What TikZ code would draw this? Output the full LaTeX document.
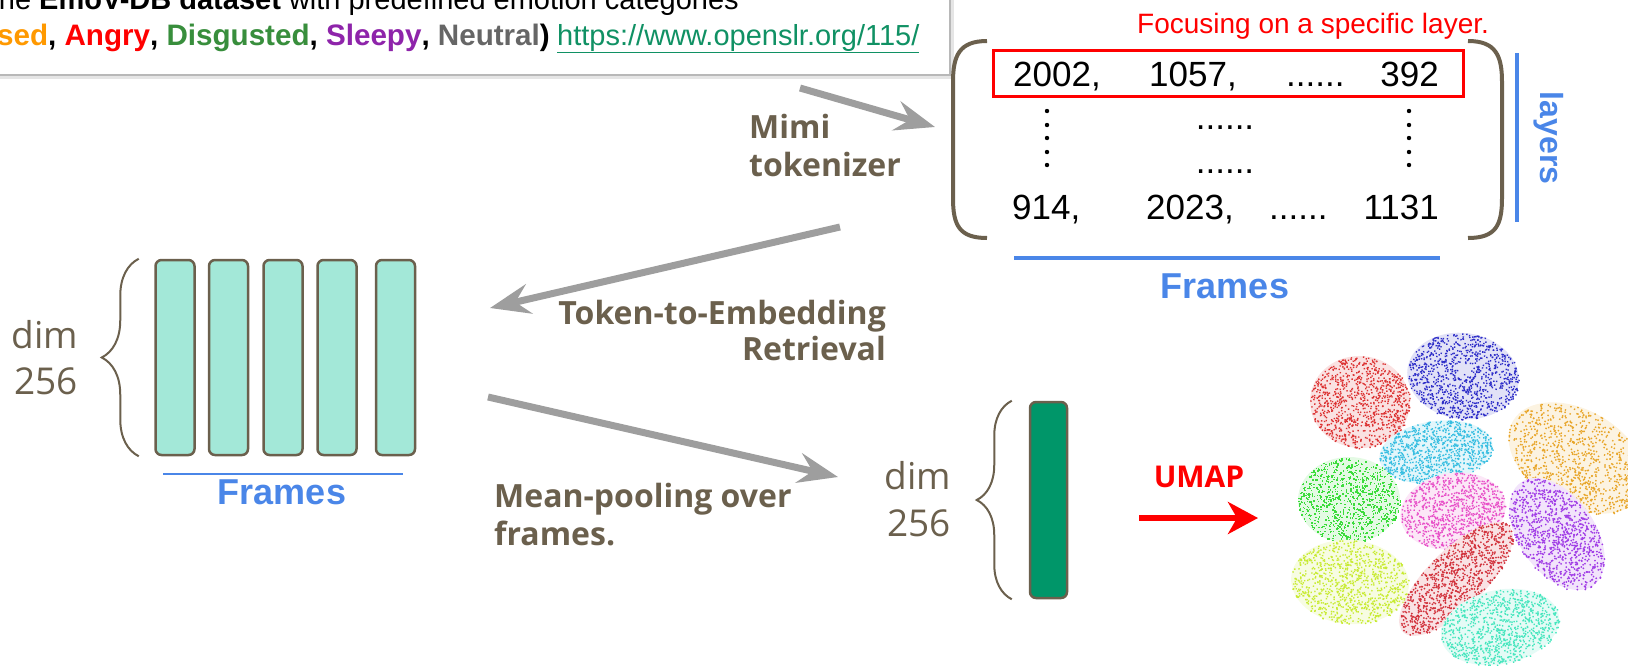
\documentclass[tikz,border=0pt]{standalone}
\usepackage{fontspec}
\setmainfont{Liberation Sans}
\newfontfamily\osans{Open Sans}
\usetikzlibrary{arrows.meta,decorations.pathreplacing,calc}

\definecolor{brn}{RGB}{107,96,77}
\definecolor{mint}{RGB}{163,232,216}
\definecolor{dgreen}{RGB}{0,150,105}
\definecolor{fblue}{RGB}{74,134,232}
\definecolor{agray}{RGB}{158,158,158}
\definecolor{lnk}{RGB}{16,145,100}
\definecolor{emOr}{RGB}{255,153,0}
\definecolor{emRd}{RGB}{255,0,0}
\definecolor{emGr}{RGB}{56,142,60}
\definecolor{emPu}{RGB}{142,36,170}
\definecolor{emNe}{RGB}{102,102,102}
\definecolor{cRedA}{RGB}{220,50,50}
\definecolor{cBlue}{RGB}{45,45,200}
\definecolor{cOrange}{RGB}{232,165,40}
\definecolor{cCyan}{RGB}{55,190,225}
\definecolor{cGreen}{RGB}{60,220,60}
\definecolor{cMag}{RGB}{232,80,200}
\definecolor{cPurple}{RGB}{160,60,230}
\definecolor{cLime}{RGB}{200,235,50}
\definecolor{cRedB}{RGB}{210,50,60}
\definecolor{cAqua}{RGB}{70,230,190}

% one UMAP cluster: centre x, centre y, x radius, y radius, rotation, colour
\newcommand\clusterblob[6]{%
  \begin{scope}[shift={(#1,#2)},rotate=#5]
    \fill[#6!14] (0,0) ellipse [x radius=#3, y radius=#4];
    \foreach \k in {1,...,950}{%
      \pgfmathsetmacro\rr{sqrt(rnd)}%
      \pgfmathsetmacro\aa{360*rnd}%
      \fill[#6] ({\rr*#3*cos(\aa)},{\rr*#4*sin(\aa)}) rectangle ++(1.4,1.4);
    }
  \end{scope}}

\begin{document}
\begin{tikzpicture}[x=1pt,y=-1pt,
  bar/.style={draw=brn, line width=2.5pt, rounded corners=6pt, fill=mint,
              minimum width=39pt, minimum height=195pt, inner sep=0pt},
  flow/.style={draw=agray, line width=7pt,
               -{Stealth[length=40pt,width=30pt,inset=14pt]}},
  lbl/.style={font=\osans\bfseries\fontsize{32}{38}\selectfont, text=brn, inner sep=0pt},
  dimlbl/.style={font=\osans\fontsize{37}{44}\selectfont, text=brn, inner sep=0pt, anchor=base},
  num/.style={font=\fontsize{35}{35}\selectfont, inner sep=0pt},
  brc/.style={draw=brn, line width=2pt, decorate},
  blueline/.style={draw=fblue, line width=4pt},
  bluetxt/.style={font=\bfseries\fontsize{36}{36}\selectfont, text=fblue, inner sep=0pt},
  toptxt/.style={font=\fontsize{29}{34}\selectfont, inner sep=0pt}]

\useasboundingbox (0,0) rectangle (1628,665);
\clip (0,0) rectangle (1628,665);

% ---- dataset note box (top left) ----
\draw[black!10, line width=3pt] (-60,-60) rectangle (952,77);
\draw[black!28, line width=1.5pt, fill=white] (-60,-60) rectangle (950,75);
\node[toptxt, anchor=base east] (dsline) at (739,9)
  {the \textbf{EmoV-DB dataset} with predefined emotion categories};
\node[toptxt, font=\fontsize{29.6}{34}\selectfont, anchor=base east] (emoline) at (550,45)
  {\textbf{(\textcolor{emOr}{Amused}, \textcolor{emRd}{Angry}, \textcolor{emGr}{Disgusted}, \textcolor{emPu}{Sleepy}, \textcolor{emNe}{Neutral})}};
\node[toptxt, anchor=base west, text=lnk] (link) at (557,45)
  {\underline{https://www.openslr.org/115/}};

% ---- token matrix ----
\node[font=\fontsize{28}{28}\selectfont, text=emRd, inner sep=0pt, anchor=base west] (focus) at (1137,33)
  {Focusing on a specific layer.};
\draw[brn, line width=4pt] (987,41) .. controls (959,41) and (953,56) .. (953,82)
  -- (953,198) .. controls (953,225) and (959,238) .. (987,238);
\draw[brn, line width=4pt] (1468,41) .. controls (1496,41) and (1502,56) .. (1502,82)
  -- (1502,198) .. controls (1502,225) and (1496,238) .. (1468,238);
\node[draw=emRd, line width=3pt, minimum width=470pt, minimum height=46pt, inner sep=0pt]
  (layerbox) at (1228,73) {};
\node[num, anchor=base west] (a1) at (1013,86) {2002,};
\node[num, anchor=base west] (a2) at (1149,86) {1057,};
\node[num, anchor=base west] (a3) at (1286,86) {......};
\node[num, anchor=base east] (a4) at (1439,86) {392};
\node[num, anchor=base west] (c1) at (1012,219) {914,};
\node[num, anchor=base west] (c2) at (1146,219) {2023,};
\node[num, anchor=base west] (c3) at (1269,219) {......};
\node[num, anchor=base east] (c4) at (1439,219) {1131};
\node[num, anchor=base] (m1) at (1225,129) {......};
\node[num, anchor=base] (m2) at (1225,173) {......};
\foreach \yy in {111,125,138,152,165}{
  \fill (1047,\yy) circle (2.2);
  \fill (1409,\yy) circle (2.2);
}
\draw[blueline] (1517,53) -- (1517,222);
\node[font=\bfseries\fontsize{32}{32}\selectfont, text=fblue, rotate=-90, inner sep=0pt]
  (layerslbl) at (1549,138) {layers};
\draw[blueline] (1014,258) -- (1440,258);
\node[bluetxt, anchor=base] (framesR) at (1225,298) {Frames};

% ---- per-frame embeddings ----
\node[bar] (f1) at (175,357.5) {};
\node[bar] (f2) at (228.5,357.5) {};
\node[bar] (f3) at (283,357.5) {};
\node[bar] (f4) at (337,357.5) {};
\node[bar] (f5) at (395.5,357.5) {};
\draw[brc, decoration={brace, amplitude=37pt}]
  ($(f1.south west)+(-15.5,0)$) -- ($(f1.north west)+(-15.5,0)$);
\node[dimlbl] (dimL) at (45,348) {dim};
\node[dimlbl] (numL) at (46,394) {256};
\draw[draw=fblue, line width=2pt] (163,474) -- (403,474);
\node[bluetxt, anchor=base] (framesL) at (282,504) {Frames};

% ---- pooled embedding ----
\node[bar, fill=dgreen, minimum width=37pt, minimum height=196pt] (pooled) at (1048.5,500) {};
\draw[brc, decoration={brace, amplitude=35pt}]
  ($(pooled.south west)+(-17,0)$) -- ($(pooled.north west)+(-17,0)$);
\node[dimlbl] (dimR) at (918,489) {dim};
\node[dimlbl] (numR) at (919,536) {256};

% ---- flow arrows and their labels ----
\coordinate (mimiS) at (800,88);
\coordinate (mimiE) at (935,127);
\coordinate (tokS) at (840,227);
\coordinate (tokE) at (490,308);
\coordinate (meanS) at (488,397);
\coordinate (meanE) at (838,477);
\draw[flow] (mimiS) -- (mimiE);
\draw[flow] (tokS) -- (tokE);
\draw[flow] (meanS) -- (meanE);
\node[lbl, anchor=base west] (mimi1) at (749,138) {Mimi};
\node[lbl, anchor=base west] (mimi2) at (749,176) {tokenizer};
\node[lbl, anchor=base east] (tok1) at (886,324) {Token-to-Embedding};
\node[lbl, anchor=base east] (tok2) at (886,360) {Retrieval};
\node[lbl, anchor=base west] (mean1) at (494,507) {Mean-pooling over};
\node[lbl, anchor=base west] (mean2) at (494,545) {frames.};

% ---- UMAP projection ----
\coordinate (umS) at (1139,518);
\coordinate (umE) at (1258,518);
\draw[emRd, line width=6pt, -{Stealth[length=30pt,width=32pt,inset=9pt]}] (umS) -- (umE);
\node[font=\osans\bfseries\fontsize{30}{30}\selectfont, text=emRd, inner sep=0pt, anchor=base]
  (umap) at (1199,487) {UMAP};

\pgfmathsetseed{17}
\clusterblob{1360}{402}{50}{46}{-5}{cRedA}
\clusterblob{1463}{376}{56}{43}{-8}{cBlue}
\clusterblob{1577}{458}{74}{48}{-30}{cOrange}
\clusterblob{1436}{452}{57}{31}{8}{cCyan}
\clusterblob{1349}{500}{51}{43}{0}{cGreen}
\clusterblob{1453}{511}{53}{38}{10}{cMag}
\clusterblob{1557}{534}{63}{38}{-55}{cPurple}
\clusterblob{1350}{582}{59}{42}{-5}{cLime}
\clusterblob{1456}{579}{75}{29}{45}{cRedB}
\clusterblob{1500}{627}{60}{37}{12}{cAqua}
\end{tikzpicture}
\end{document}
